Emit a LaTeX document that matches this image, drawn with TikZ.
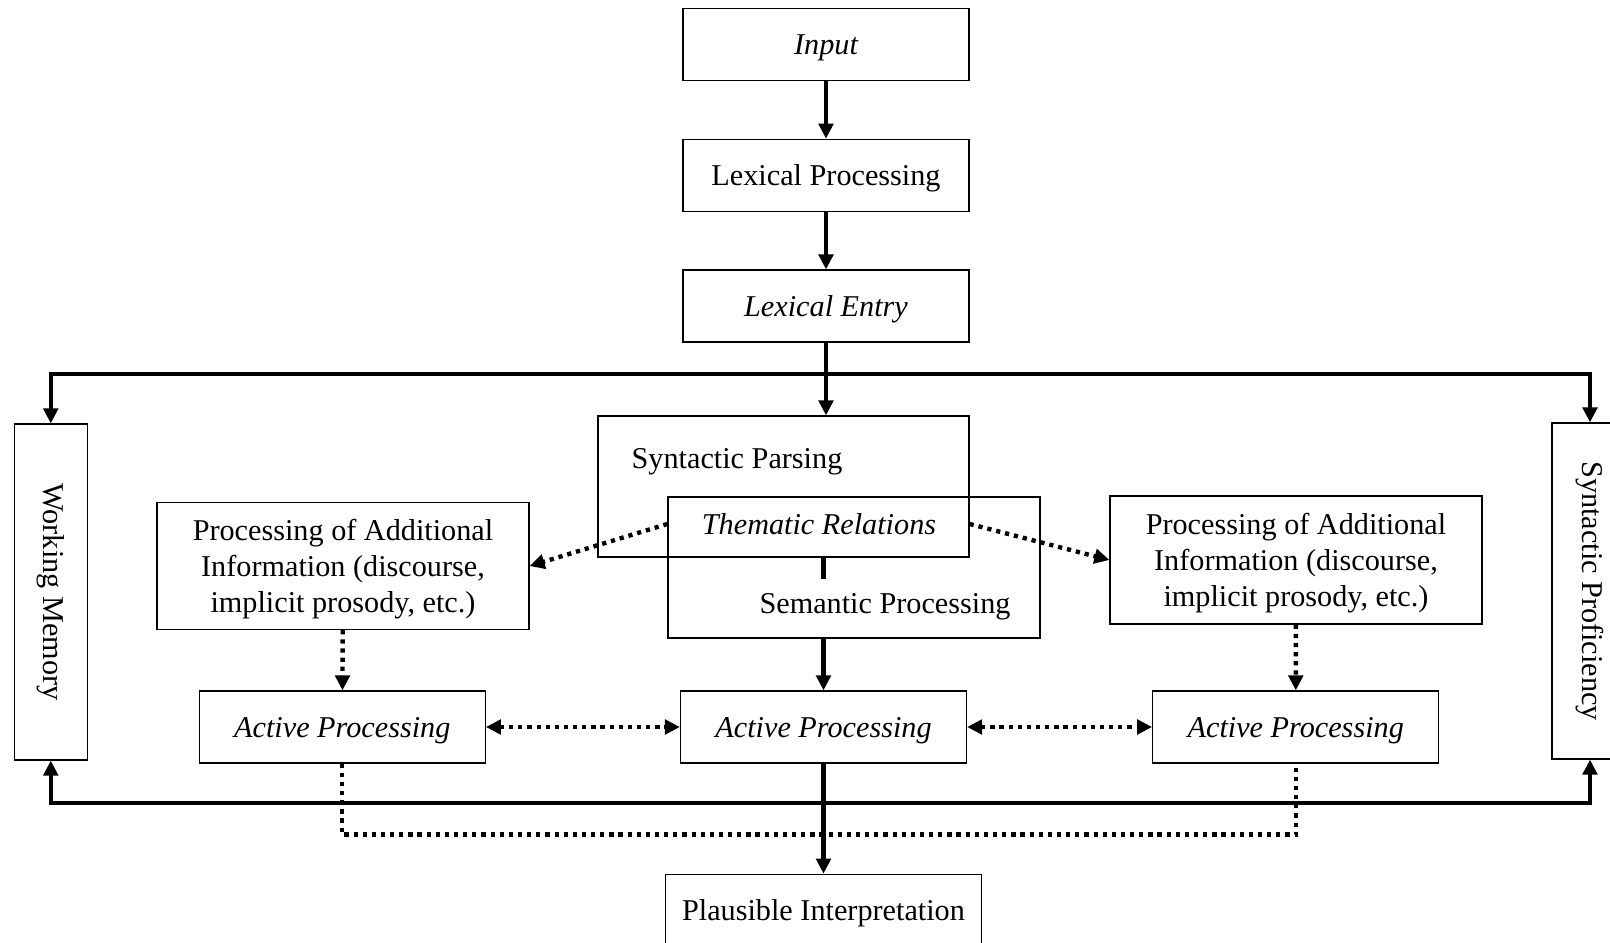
\documentclass[tikz,border=0pt]{standalone}
\usepackage{fontspec}
\setmainfont{Liberation Serif}
\usepackage{tikz}
\usetikzlibrary{arrows.meta, positioning, calc}
\newcommand{\figfont}{\fontsize{17.2}{20.5}\selectfont}
\tikzset{
  procbox/.style={rectangle, draw=black, line width=0.75pt, font=\figfont, align=center,
                  minimum width=5.72cm, minimum height=1.44cm, inner sep=2pt, text depth=0pt},
  sidebox/.style={rectangle, draw=black, line width=0.75pt, font=\figfont,
                  minimum width=1.46cm, minimum height=6.72cm, inner sep=0pt},
  infobox/.style={procbox, minimum width=7.44cm, minimum height=2.54cm},
  mainline/.style={line width=2.6pt},
  mainflow/.style={mainline, -{Triangle[length=3mm, width=2.9mm]}},
  dotline/.style={line width=2.5pt, dash pattern=on 2.4pt off 2.8pt},
  dotflow/.style={dotline, -{Triangle[length=3mm, width=2.9mm]}},
  dotboth/.style={dotline, {Triangle[length=3mm, width=2.9mm]}-{Triangle[length=3mm, width=2.9mm]}},
}

\begin{document}
\begin{tikzpicture}[x=0.02cm, y=-0.02cm, node distance=1.15cm]
  \useasboundingbox (0,0) rectangle (1610,943);
  % main column
  \node[procbox, font=\figfont\itshape](input) at (826,44.5){Input};
  \node[procbox, below=of input](lexproc){Lexical Processing};
  \node[procbox, below=of lexproc, font=\figfont\itshape](lexentry){Lexical Entry};
  % parsing and semantics overlap
  \node[procbox, minimum width=7.42cm, minimum height=2.82cm](syn) at (783.5,486.5){};
  \node[procbox, minimum width=7.44cm, minimum height=2.82cm](sem) at (854,567.5){};
  \node[font=\figfont](syntxt) at (737,462){Syntactic Parsing};
  \node[font=\figfont\itshape](thematic) at (819,524){Thematic Relations};
  \node[font=\figfont](semtxt) at (885,607){Semantic Processing};
  % side boxes
  \node[sidebox](wm) at (50.8,592){\rotatebox{-90}{Working Memory}};
  \node[sidebox, minimum width=1.52cm](sp) at (1590,591){\rotatebox{-90}{Syntactic Proficiency}};
  % additional information
  \node[infobox](addl) at (343,566){Processing of Additional\\Information (discourse,\\implicit prosody, etc.)};
  \node[infobox, minimum height=2.56cm](addr) at (1296,560){Processing of Additional\\Information (discourse,\\implicit prosody, etc.)};
  % active processing row
  \node[procbox, font=\figfont\itshape](actm) at (823.5,727){Active Processing};
  \node[procbox, font=\figfont\itshape, left=3.88cm of actm](actl){Active Processing};
  \node[procbox, font=\figfont\itshape, right=3.7cm of actm](actr){Active Processing};
  \node[procbox, minimum width=6.32cm, below=2.2cm of actm](plaus){Plausible Interpretation};
  \coordinate (topjoin) at (lexentry.south |- 0,374);
  \coordinate (botjoin) at (actm.south |- 0,803);
  \draw[mainflow](input)--(lexproc);\draw[mainflow](lexproc)--(lexentry);
  \draw[mainflow](lexentry.south)--(lexentry.south |- syn.north);
  \draw[mainflow](topjoin)-|(wm.north);\draw[mainflow](topjoin)-|(sp.north);
  \draw[mainline](syn.south -| actm)--++(0,21);
  \draw[mainflow](sem.south -| actm)--(actm.north);
  \draw[dotflow](sem.west |- thematic)--(addl.east);
  \draw[dotflow](syn.east |- thematic)--(addr.west);
  \draw[dotflow](addl)--(actl);\draw[dotflow](addr)--(actr);
  \draw[dotboth](actl)--(actm);\draw[dotboth](actm)--(actr);
  \draw[mainflow](botjoin)-|(wm.south);\draw[mainflow](botjoin)-|(sp.south);
  \draw[dotline](actl.south)--++(0,71)-|(actr.south);
  \draw[mainflow](actm)--(plaus);
\end{tikzpicture}
\end{document}
